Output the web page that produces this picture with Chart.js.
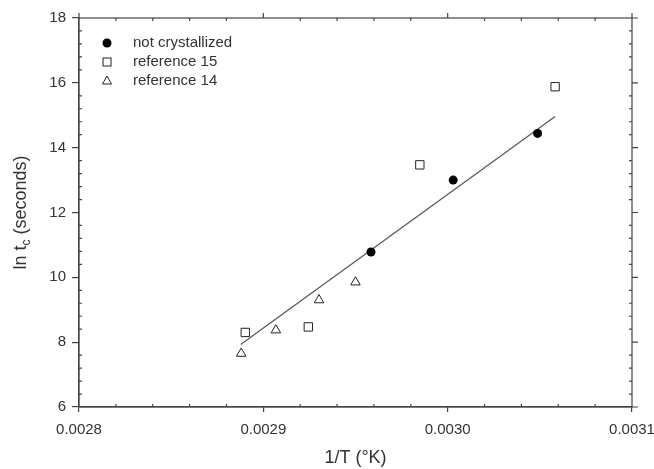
<!DOCTYPE html>
<html>
<head>
<meta charset="utf-8">
<script src="https://cdn.jsdelivr.net/npm/chart.js@4/dist/chart.umd.min.js"></script>
<style>
  html, body { margin: 0; padding: 0; background: #fff; }
  #wrap { width: 654px; height: 469px; }
</style>
</head>
<body>
<div id="wrap"><canvas id="arrheniusChart"></canvas></div>
<script>
// values
const notCrystX = [0.0029584, 0.0030030, 0.0030488];
const notCrystY = [10.78, 13.00, 14.44];
const ref15X = [0.0028902, 0.0029244, 0.0029849, 0.0030583];
const ref15Y = [8.30, 8.47, 13.47, 15.88];
const ref14X = [0.0028880, 0.0029068, 0.0029302, 0.0029500];
const ref14Y = [7.65, 8.37, 9.30, 9.85];
const fitX = [0.0028877, 0.0030583];
const fitY = [7.93, 14.96];
const xTicks = [0.0028, 0.0029, 0.0030, 0.0031];
const yTicks = [6, 8, 10, 12, 14, 16, 18];

const AXIS = '#444';
const TEXT = '#333';

function pts(xs, ys) {
    return xs.map((x, i) => ({ x: x, y: ys[i] }));
}

// frame, outside ticks on top/right, inside minor ticks, legend, y title
const framePlugin = {
    id: 'frame',
    afterDraw(chart) {
        const ctx = chart.ctx;
        const a = chart.chartArea;
        const xs = chart.scales.x, ys = chart.scales.y;
        ctx.save();
        ctx.strokeStyle = AXIS;
        ctx.lineWidth = 1.2;
        ctx.strokeRect(a.left, a.top, a.right - a.left, a.bottom - a.top);
        ctx.beginPath();
        // major ticks on top and right, pointing out
        xTicks.forEach(v => {
            const px = xs.getPixelForValue(v);
            ctx.moveTo(px, a.top); ctx.lineTo(px, a.top - 5);
        });
        yTicks.forEach(v => {
            const py = ys.getPixelForValue(v);
            ctx.moveTo(a.right, py); ctx.lineTo(a.right + 6, py);
        });
        // minor ticks inside
        for (let i = 0; i <= 15; i++) {
            if (i % 5 === 0) continue;
            const px = xs.getPixelForValue(0.0028 + i * 0.00002);
            ctx.moveTo(px, a.bottom); ctx.lineTo(px, a.bottom - 3);
            ctx.moveTo(px, a.top); ctx.lineTo(px, a.top + 3);
        }
        for (let i = 0; i <= 30; i++) {
            if (i % 5 === 0) continue;
            const py = ys.getPixelForValue(6 + i * 0.4);
            ctx.moveTo(a.left, py); ctx.lineTo(a.left + 3, py);
            ctx.moveTo(a.right, py); ctx.lineTo(a.right - 3, py);
        }
        ctx.stroke();

        // legend
        const lx = 107, ly = [43, 62, 81];
        ctx.fillStyle = '#000';
        ctx.beginPath(); ctx.arc(lx, ly[0], 4.5, 0, Math.PI * 2); ctx.fill();
        ctx.strokeStyle = '#222';
        ctx.lineWidth = 1;
        ctx.strokeRect(lx - 4, ly[1] - 4, 8, 8);
        ctx.beginPath();
        ctx.moveTo(lx, ly[2] - 5); ctx.lineTo(lx + 4.5, ly[2] + 3); ctx.lineTo(lx - 4.5, ly[2] + 3);
        ctx.closePath(); ctx.stroke();
        ctx.fillStyle = TEXT;
        ctx.font = '15px "Liberation Sans", Arial, sans-serif';
        ctx.textBaseline = 'middle';
        ctx.textAlign = 'left';
        const labels = chart.data.datasets.slice(0, 3).map(d => d.label);
        labels.forEach((t, i) => ctx.fillText(t, 133, ly[i]));

        // y axis title with subscript c
        ctx.translate(21, (a.top + a.bottom) / 2);
        ctx.rotate(-Math.PI / 2);
        const big = '18px "Liberation Sans", Arial, sans-serif';
        const small = '12px "Liberation Sans", Arial, sans-serif';
        ctx.font = big;
        const w1 = ctx.measureText('ln t').width;
        const w3 = ctx.measureText(' (seconds)').width;
        ctx.font = small;
        const w2 = ctx.measureText('c').width;
        let x0 = -(w1 + w2 + w3) / 2;
        ctx.textAlign = 'left';
        ctx.font = big;
        ctx.fillText('ln t', x0, 0);
        ctx.font = small;
        ctx.fillText('c', x0 + w1, 6);
        ctx.font = big;
        ctx.fillText(' (seconds)', x0 + w1 + w2, 0);
        ctx.restore();
    }
};

new Chart(document.getElementById('arrheniusChart'), {
    type: 'scatter',
    data: {
        datasets: [{
            label: 'not crystallized',
            data: pts(notCrystX, notCrystY),
            pointStyle: 'circle',
            pointRadius: 4.5,
            backgroundColor: '#000',
            borderColor: '#000',
            borderWidth: 0
        }, {
            label: 'reference 15',
            data: pts(ref15X, ref15Y),
            pointStyle: 'rect',
            pointRadius: 5.9,
            backgroundColor: 'rgba(0,0,0,0)',
            borderColor: '#222',
            borderWidth: 1
        }, {
            label: 'reference 14',
            data: pts(ref14X, ref14Y),
            pointStyle: 'triangle',
            pointRadius: 5.5,
            backgroundColor: 'rgba(0,0,0,0)',
            borderColor: '#222',
            borderWidth: 1
        }, {
            label: 'fit',
            data: pts(fitX, fitY),
            showLine: true,
            pointRadius: 0,
            borderColor: '#555',
            borderWidth: 1.2
        }]
    },
    options: {
        responsive: true,
        maintainAspectRatio: false,
        animation: false,
        layout: { padding: { left: 0, top: 18, right: 22, bottom: 0 } },
        plugins: {
            legend: { display: false },
            tooltip: { enabled: false }
        },
        scales: {
            x: {
                type: 'linear',
                min: 0.0028,
                max: 0.0031,
                afterBuildTicks: s => { s.ticks = xTicks.map(v => ({ value: v })); },
                afterFit: s => { s.height = 62; s.paddingLeft = 0; s.paddingRight = 0; },
                ticks: {
                    color: TEXT,
                    padding: 9,
                    font: { family: '"Liberation Sans", Arial, sans-serif', size: 15 },
                    callback: v => v.toFixed(4)
                },
                grid: { drawOnChartArea: false, tickLength: 5, color: AXIS, lineWidth: 1.2 },
                border: { color: AXIS, width: 1.2 },
                title: {
                    display: true,
                    text: '1/T (°K)',
                    color: TEXT,
                    padding: { top: 0, bottom: 0 },
                    font: { family: '"Liberation Sans", Arial, sans-serif', size: 18 }
                }
            },
            y: {
                min: 6,
                max: 18,
                afterBuildTicks: s => { s.ticks = yTicks.map(v => ({ value: v })); },
                afterFit: s => { s.width = 79; s.paddingTop = 0; s.paddingBottom = 0; },
                ticks: {
                    color: TEXT,
                    padding: 6,
                    font: { family: '"Liberation Sans", Arial, sans-serif', size: 15 }
                },
                grid: { drawOnChartArea: false, tickLength: 7, color: AXIS, lineWidth: 1.2 },
                border: { color: AXIS, width: 1.2 }
            }
        }
    },
    plugins: [framePlugin]
});
</script>
</body>
</html>
